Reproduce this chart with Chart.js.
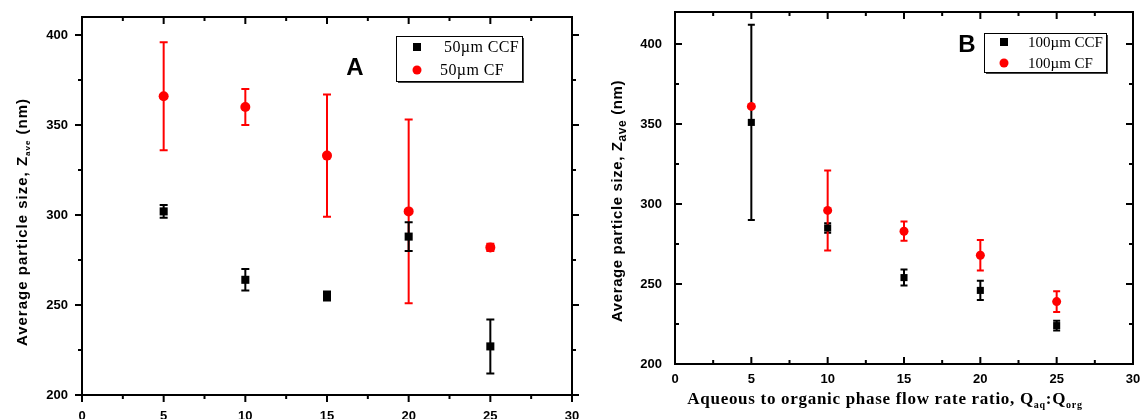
<!DOCTYPE html>
<html>
<head>
<meta charset="utf-8">
<script src="https://cdn.jsdelivr.net/npm/chart.js@4.4.0/dist/chart.umd.min.js"></script>
<style>
  html, body { margin: 0; padding: 0; background: #fff; overflow: hidden; }
  #wrap { position: relative; width: 1143px; height: 419px; }
  #boxA { position: absolute; left: 0; top: 0; width: 590px; height: 419px; }
  #boxB { position: absolute; left: 585px; top: 0; width: 558px; height: 419px; }
</style>
</head>
<body>
<div id="wrap">
  <div id="boxA"><canvas id="chartA"></canvas></div>
  <div id="boxB"><canvas id="chartB"></canvas></div>
</div>
<script>
// flow rate ratio Qaq:Qorg
const ratios = [5, 10, 15, 20, 25];

// panel A, 50 um chips
const aCcfSize = [302, 264, 255, 288, 227];
const aCcfErr = [3.5, 6, 2.5, 8, 15];
const aCfSize = [366, 360, 333, 302, 282];
const aCfErr = [30, 10, 34, 51, 2];

// panel B, 100 um chips
const bCcfSize = [351, 285, 254, 246, 224];
const bCcfErr = [61, 3, 5, 6, 3];
const bCfSize = [361, 296, 283, 268, 239];
const bCfErr = [0, 25, 6, 9.5, 6.5];

const xTicks = [0, 5, 10, 15, 20, 25, 30];

const sans = '"Liberation Sans", Arial, sans-serif';
const serif = '"Liberation Serif", "Times New Roman", serif';

const toPoints = (xs, ys) => xs.map((x, i) => ({ x: x, y: ys[i] }));

// error bars, drawn under the markers
const errorBars = {
  id: 'errorBars',
  beforeDatasetsDraw(chart) {
    const ctx = chart.ctx;
    const xs = chart.scales.x, ys = chart.scales.y;
    chart.data.datasets.forEach((ds) => {
      if (!ds.errors) return;
      ctx.save();
      ctx.strokeStyle = ds.borderColor;
      ctx.lineWidth = 2;
      ds.data.forEach((p, i) => {
        const e = ds.errors[i];
        if (!e) return;
        const px = xs.getPixelForValue(p.x);
        const top = ys.getPixelForValue(p.y + e);
        const bot = ys.getPixelForValue(p.y - e);
        const cap = ds.capHalf || 4;
        ctx.beginPath();
        ctx.moveTo(px, top); ctx.lineTo(px, bot);
        ctx.moveTo(px - cap, top); ctx.lineTo(px + cap, top);
        ctx.moveTo(px - cap, bot); ctx.lineTo(px + cap, bot);
        ctx.stroke();
      });
      ctx.restore();
    });
  }
};

// box frame with major / minor ticks on all four sides
const frame = {
  id: 'frame',
  afterDraw(chart, args, opts) {
    const ctx = chart.ctx;
    const a = chart.chartArea;
    const xs = chart.scales.x, ys = chart.scales.y;
    ctx.save();
    ctx.strokeStyle = '#000';
    ctx.lineWidth = 2;
    ctx.strokeRect(a.left, a.top, a.right - a.left, a.bottom - a.top);
    const maj = 7, min = 4;
    ctx.beginPath();
    for (let v = xs.min; v <= xs.max + 0.01; v += 2.5) {
      const px = xs.getPixelForValue(v);
      const len = (v % 5 === 0) ? maj : min;
      const db = opts.out ? len : -len;
      ctx.moveTo(px, a.bottom); ctx.lineTo(px, a.bottom + db);
      ctx.moveTo(px, a.top); ctx.lineTo(px, a.top + len);
    }
    for (let v = 200; v <= ys.max + 0.01; v += 25) {
      const py = ys.getPixelForValue(v);
      const len = (v % 50 === 0) ? maj : min;
      const dl = opts.out ? -len : len;
      ctx.moveTo(a.left, py); ctx.lineTo(a.left + dl, py);
      const dr = opts.out ? len : -len;
      ctx.moveTo(a.right, py); ctx.lineTo(a.right + dr, py);
    }
    ctx.stroke();
    ctx.restore();
  }
};

// text run with subscripts: parts = [[text, font, dy], ...]
function drawRun(ctx, parts, cx, cy, rotate, spacing) {
  ctx.save();
  ctx.translate(cx, cy);
  if (rotate) ctx.rotate(-Math.PI / 2);
  ctx.letterSpacing = (spacing || 0) + 'px';
  let total = 0;
  parts.forEach(p => { ctx.font = p[1]; total += ctx.measureText(p[0]).width; });
  let x = -total / 2;
  ctx.fillStyle = '#000';
  ctx.textBaseline = 'middle';
  ctx.textAlign = 'left';
  parts.forEach(p => {
    ctx.font = p[1];
    ctx.fillText(p[0], x, p[2] || 0);
    x += ctx.measureText(p[0]).width;
  });
  ctx.restore();
}

const decorations = {
  id: 'decorations',
  afterDraw(chart, args, opts) {
    const ctx = chart.ctx;
    drawRun(ctx, opts.yTitle, opts.yTitlePos[0], opts.yTitlePos[1], true, opts.ySpacing);
    if (opts.xTitle) drawRun(ctx, opts.xTitle, opts.xTitlePos[0], opts.xTitlePos[1], false, opts.xSpacing);

    ctx.save();
    ctx.fillStyle = '#000';
    ctx.font = 'bold 24px ' + sans;
    ctx.textAlign = 'center';
    ctx.textBaseline = 'middle';
    ctx.fillText(opts.letter, opts.letterPos[0], opts.letterPos[1]);

    // legend box with a drop shadow
    const b = opts.legendBox;
    ctx.fillStyle = '#444';
    ctx.fillRect(b[0] + 2, b[1] + 2, b[2], b[3]);
    ctx.fillStyle = '#fff';
    ctx.fillRect(b[0], b[1], b[2], b[3]);
    ctx.strokeStyle = '#000';
    ctx.lineWidth = 1;
    ctx.strokeRect(b[0] + 0.5, b[1] + 0.5, b[2], b[3]);

    ctx.font = opts.legendFont;
    ctx.letterSpacing = (opts.legendSpacing || 0) + 'px';
    ctx.textAlign = 'left';
    chart.data.datasets.forEach((ds, i) => {
      const row = opts.legendRows[i];
      ctx.fillStyle = ds.backgroundColor;
      if (ds.pointStyle === 'rect') {
        ctx.fillRect(row[0] - 4, row[1] - 4, 8, 8);
      } else {
        ctx.beginPath();
        ctx.arc(row[0], row[1], 4.5, 0, Math.PI * 2);
        ctx.fill();
      }
      ctx.fillStyle = '#000';
      ctx.fillText(ds.label, row[2], row[1] + 1);
    });
    ctx.restore();
  }
};

function makeChart(id, sets, cfg) {
  return new Chart(document.getElementById(id), {
    type: 'scatter',
    data: { datasets: sets },
    options: {
      responsive: true,
      maintainAspectRatio: false,
      animation: false,
      layout: { padding: { top: cfg.top, right: cfg.right, left: 0, bottom: 0 } },
      scales: {
        x: {
          type: 'linear', min: 0, max: 30,
          afterFit: s => { s.height = cfg.xHeight; s.paddingLeft = 0; s.paddingRight = 0; },
          afterBuildTicks: s => { s.ticks = xTicks.map(v => ({ value: v })); },
          grid: { display: false, drawTicks: false },
          border: { display: false },
          ticks: { color: '#000', padding: cfg.xPad, font: { family: sans, size: 13, weight: 'bold' } }
        },
        y: {
          type: 'linear', min: 200, max: cfg.yMax,
          afterFit: s => { s.width = cfg.yWidth; s.paddingTop = 0; s.paddingBottom = 0; },
          grid: { display: false, drawTicks: false },
          border: { display: false },
          ticks: { stepSize: 50, includeBounds: false, color: '#000', padding: cfg.yPad,
                   font: { family: sans, size: 13, weight: 'bold' } }
        }
      },
      plugins: {
        legend: { display: false },
        tooltip: { enabled: false },
        frame: { out: cfg.out },
        decorations: cfg.deco
      }
    },
    plugins: [errorBars, frame, decorations]
  });
}

makeChart('chartA', [
  { label: '50\u00b5m CF', data: toPoints(ratios, aCfSize), errors: aCfErr, capHalf: 4,
    pointStyle: 'circle', pointRadius: 5, backgroundColor: '#ff0000', borderColor: '#ff0000', borderWidth: 0 },
  { label: '50\u00b5m CCF', data: toPoints(ratios, aCcfSize), errors: aCcfErr, capHalf: 4,
    pointStyle: 'rect', pointRadius: 5.7, backgroundColor: '#000', borderColor: '#000', borderWidth: 0 }
], {
  top: 17, right: 18, xHeight: 24, yWidth: 82, yMax: 410, xPad: 14, yPad: 14, out: true,
  deco: {
    yTitle: [['Average particle size, Z', 'bold 15px ' + sans, 0], ['ave', 'bold 8px ' + sans, 5], [' (nm)', 'bold 15px ' + sans, 0]],
    yTitlePos: [23, 222], ySpacing: 1,
    letter: 'A', letterPos: [355, 68],
    legendBox: [396, 36, 126, 45],
    legendFont: '16px ' + serif, legendSpacing: 0.4,
    legendRows: [[417, 70, 440], [417, 47, 444]]
  }
});

makeChart('chartB', [
  { label: '100\u00b5m CCF', data: toPoints(ratios, bCcfSize), errors: bCcfErr, capHalf: 3.5,
    pointStyle: 'rect', pointRadius: 5, backgroundColor: '#000', borderColor: '#000', borderWidth: 0 },
  { label: '100\u00b5m CF', data: toPoints(ratios, bCfSize), errors: bCfErr, capHalf: 3.5,
    pointStyle: 'circle', pointRadius: 4.5, backgroundColor: '#ff0000', borderColor: '#ff0000', borderWidth: 0 }
], {
  top: 12, right: 10, xHeight: 55, yWidth: 90, yMax: 420, xPad: 8, yPad: 13, out: false,
  deco: {
    yTitle: [['Average particle size, Z', 'bold 15px ' + sans, 0], ['ave', 'bold 12px ' + sans, 5], [' (nm)', 'bold 15px ' + sans, 0]],
    yTitlePos: [33, 201], ySpacing: 0.6,
    xTitle: [['Aqueous to organic phase flow rate ratio, Q', 'bold 17px ' + serif, 0], ['aq', 'bold 10px ' + serif, 5],
             [':Q', 'bold 17px ' + serif, 0], ['org', 'bold 10px ' + serif, 5]],
    xTitlePos: [300, 400], xSpacing: 0.7,
    letter: 'B', letterPos: [382, 45],
    legendBox: [399, 33, 122, 39],
    legendFont: '15px ' + serif, legendSpacing: 0,
    legendRows: [[419, 42, 443], [419, 63, 443]]
  }
});
</script>
</body>
</html>
